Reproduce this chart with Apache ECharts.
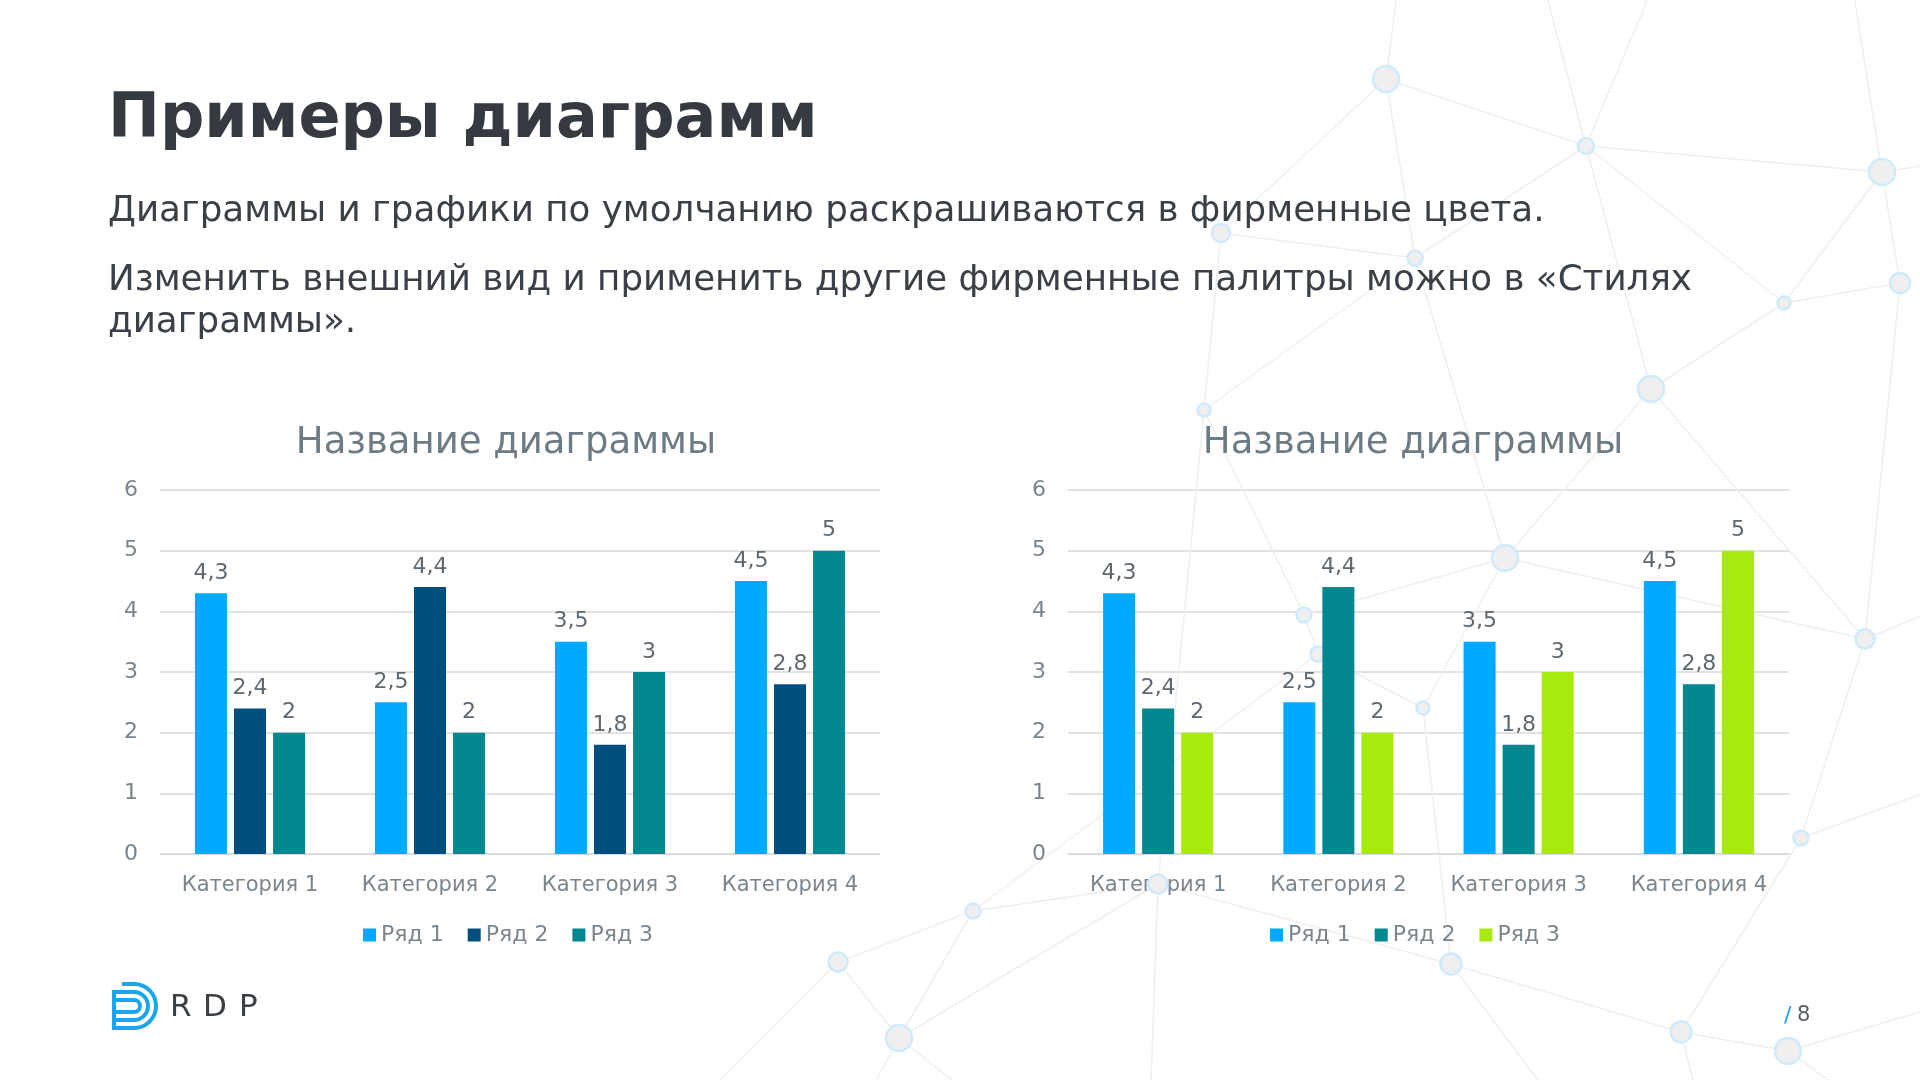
<!DOCTYPE html>
<html>
<head>
<meta charset="utf-8">
<script src="https://cdn.jsdelivr.net/npm/echarts@6/dist/echarts.min.js"></script>
<style>
  html, body { margin: 0; padding: 0; background: #fff; }
  #page { width: 1920px; height: 1080px; }
</style>
</head>
<body>
<div id="page"></div>
<script>
// данные диаграмм
const categories = ['Категория 1', 'Категория 2', 'Категория 3', 'Категория 4'];
const seriesNames = ['Ряд 1', 'Ряд 2', 'Ряд 3'];
const row1 = [4.3, 2.5, 3.5, 4.5];
const row2 = [2.4, 4.4, 1.8, 2.8];
const row3 = [2, 2, 3, 5];
const yTicks = [0, 1, 2, 3, 4, 5, 6];

const paletteLeft = ['#00AAFF', '#004F7C', '#00878F'];
const paletteRight = ['#00AAFF', '#00878F', '#A8EA10'];

// фоновая сеть (узлы в пикселях страницы)
const netNodes = [
  [1386, 79, 26], [1586, 146, 16], [1882, 172, 26], [1221, 233, 18], [1415, 258, 15],
  [1784, 303, 13], [1900, 283, 20], [1651, 389, 26], [1204, 410, 13], [1505, 558, 26],
  [1304, 615, 15], [1318, 654, 15], [1423, 708, 13], [1865, 639, 19], [1801, 838, 15],
  [1158, 884, 19], [973, 911, 15], [838, 962, 19], [899, 1038, 26], [1451, 964, 21],
  [1681, 1032, 21], [1788, 1051, 26],
  // точки за краем страницы
  [1400, -30, 0], [1540, -30, 0], [1660, -30, 0], [1850, -30, 0], [1960, 160, 0],
  [1960, 600, 0], [1960, 780, 0], [1960, 1000, 0], [690, 1110, 0], [860, 1110, 0],
  [990, 1110, 0], [1150, 1110, 0], [1560, 1110, 0], [1700, 1110, 0], [1870, 1110, 0]
];
const netLinks = [
  [0, 1], [0, 3], [0, 4], [0, 22], [1, 23], [1, 24], [1, 2], [1, 4], [1, 5], [1, 7],
  [2, 25], [2, 5], [2, 6], [2, 26], [3, 4], [3, 8], [4, 8], [4, 9], [5, 7], [5, 6],
  [6, 13], [7, 9], [7, 13], [8, 10], [8, 15], [9, 10], [9, 12], [9, 13], [10, 11],
  [11, 12], [11, 16], [12, 19], [13, 14], [13, 27], [14, 20], [14, 28], [19, 20],
  [20, 21], [21, 29], [19, 15], [15, 16], [16, 17], [16, 18], [17, 18], [17, 30],
  [18, 31], [18, 32], [18, 15], [15, 33], [19, 34], [20, 35], [21, 36]
];

const FONT = "'DejaVu Sans', sans-serif";
const labelGray = '#7A858D';

function fmt(v) {
  return String(v).replace('.', ',');
}

function txt(text, x, y, size, color, weight, align) {
  return {
    type: 'text',
    x: x,
    y: y,
    z: 10,
    style: {
      text: text,
      font: (weight || 'normal') + ' ' + size + 'px ' + FONT,
      fill: color,
      textAlign: align || 'left',
      textVerticalAlign: 'middle'
    }
  };
}

const chartDom = document.getElementById('page');
const chart = echarts.init(chartDom, null, { renderer: 'canvas' });

const grids = [
  { left: 160, right: 1040, top: 490, bottom: 226 },
  { left: 1068, right: 131, top: 490, bottom: 226 },
  { left: 0, right: 0, top: 0, bottom: 0 }
];

function catAxis(i) {
  return {
    type: 'category',
    gridIndex: i,
    data: categories,
    axisTick: { show: false },
    axisLine: { lineStyle: { color: '#D9D9D9', width: 1.5 } },
    axisLabel: { color: labelGray, fontSize: 21, fontFamily: FONT, margin: 21, interval: 0 }
  };
}

function valAxis(i) {
  return {
    type: 'value',
    gridIndex: i,
    min: yTicks[0],
    max: yTicks[yTicks.length - 1],
    interval: 1,
    axisLine: { show: false },
    axisTick: { show: false },
    splitLine: { lineStyle: { color: '#D9D9D9', width: 1.5 } },
    axisLabel: { color: labelGray, fontSize: 22, fontFamily: FONT, margin: 22 }
  };
}

function barSeries(name, data, color, axisIndex) {
  return {
    type: 'bar',
    name: name,
    xAxisIndex: axisIndex,
    yAxisIndex: axisIndex,
    data: data,
    barWidth: 32,
    barGap: '22%',
    z: 3,
    itemStyle: { color: color },
    label: {
      show: true,
      position: 'top',
      distance: 9,
      color: '#5F686F',
      fontSize: 22,
      fontFamily: FONT,
      formatter: (p) => fmt(p.value)
    }
  };
}

const rows = [row1, row2, row3];
const series = [];
rows.forEach((r, i) => series.push(barSeries(seriesNames[i], r, paletteLeft[i], 0)));
rows.forEach((r, i) => series.push(barSeries(seriesNames[i], r, paletteRight[i], 1)));

series.push({
  type: 'graph',
  coordinateSystem: 'cartesian2d',
  xAxisIndex: 2,
  yAxisIndex: 2,
  silent: true,
  z: 0,
  symbol: 'circle',
  data: netNodes.map((n) => ({ value: [n[0], n[1]], symbolSize: n[2] })),
  links: netLinks.map((l) => ({ source: l[0], target: l[1] })),
  itemStyle: { color: '#EFEFEF', borderColor: '#CFEBFB', borderWidth: 2.5 },
  lineStyle: { color: '#EFEFEF', width: 1.5, opacity: 1 },
  label: { show: false }
});

function legend(left, colors) {
  return {
    left: left,
    top: 919,
    itemWidth: 13,
    itemHeight: 13,
    itemGap: 24,
    icon: 'rect',
    data: seriesNames.map((n, i) => ({ name: n, itemStyle: { color: colors[i] } })),
    textStyle: { color: labelGray, fontSize: 22, fontFamily: FONT },
    selectedMode: false
  };
}

const option = {
  animation: false,
  grid: grids,
  xAxis: [catAxis(0), catAxis(1), { type: 'value', gridIndex: 2, min: 0, max: 1920, show: false }],
  yAxis: [valAxis(0), valAxis(1), { type: 'value', gridIndex: 2, min: 0, max: 1080, inverse: true, show: false }],
  legend: [legend(358, paletteLeft), legend(1265, paletteRight)],
  series: series,
  graphic: [
    txt('Примеры диаграмм', 108, 121, 62, '#343A40', 'bold'),
    txt('Диаграммы и графики по умолчанию раскрашиваются в фирменные цвета.', 108, 212, 35.7, '#3B4046'),
    txt('Изменить внешний вид и применить другие фирменные палитры можно в «Стилях', 108, 281, 35.7, '#3B4046'),
    txt('диаграммы».', 108, 323, 35.7, '#3B4046'),
    txt('Название диаграммы', 506, 443, 37, '#6D7B85', 'normal', 'center'),
    txt('Название диаграммы', 1413, 443, 37, '#6D7B85', 'normal', 'center'),
    // логотип
    {
      type: 'group',
      z: 10,
      children: [
        { type: 'arc', shape: { cx: 134, cy: 1006, r: 22, startAngle: -Math.PI / 2, endAngle: Math.PI / 2 }, style: { stroke: '#1BA5EF', lineWidth: 4, fill: null } },
        { type: 'arc', shape: { cx: 134, cy: 1006, r: 14, startAngle: -Math.PI / 2, endAngle: Math.PI / 2 }, style: { stroke: '#1BA5EF', lineWidth: 4, fill: null } },
        { type: 'arc', shape: { cx: 134, cy: 1006, r: 6, startAngle: -Math.PI / 2, endAngle: Math.PI / 2 }, style: { stroke: '#1BA5EF', lineWidth: 4, fill: null } },
        { type: 'line', shape: { x1: 122, y1: 984, x2: 134, y2: 984 }, style: { stroke: '#1BA5EF', lineWidth: 4 } },
        { type: 'line', shape: { x1: 114, y1: 992, x2: 134, y2: 992 }, style: { stroke: '#1BA5EF', lineWidth: 4 } },
        { type: 'line', shape: { x1: 114, y1: 1000, x2: 134, y2: 1000 }, style: { stroke: '#1BA5EF', lineWidth: 4 } },
        { type: 'line', shape: { x1: 114, y1: 1012, x2: 134, y2: 1012 }, style: { stroke: '#1BA5EF', lineWidth: 4 } },
        { type: 'line', shape: { x1: 114, y1: 1020, x2: 134, y2: 1020 }, style: { stroke: '#1BA5EF', lineWidth: 4 } },
        { type: 'line', shape: { x1: 114, y1: 1028, x2: 134, y2: 1028 }, style: { stroke: '#1BA5EF', lineWidth: 4 } },
        { type: 'line', shape: { x1: 114, y1: 990, x2: 114, y2: 1030 }, style: { stroke: '#1BA5EF', lineWidth: 4 } }
      ]
    },
    txt('R', 170, 1008, 31, '#3A3F44'),
    txt('D', 203, 1008, 31, '#3A3F44'),
    txt('P', 239, 1008, 31, '#3A3F44'),
    // номер страницы
    txt('/', 1784, 1016, 22, '#1BA5EF'),
    txt('8', 1797, 1016, 21, '#5A6066')
  ]
};

chart.setOption(option);
</script>
</body>
</html>
